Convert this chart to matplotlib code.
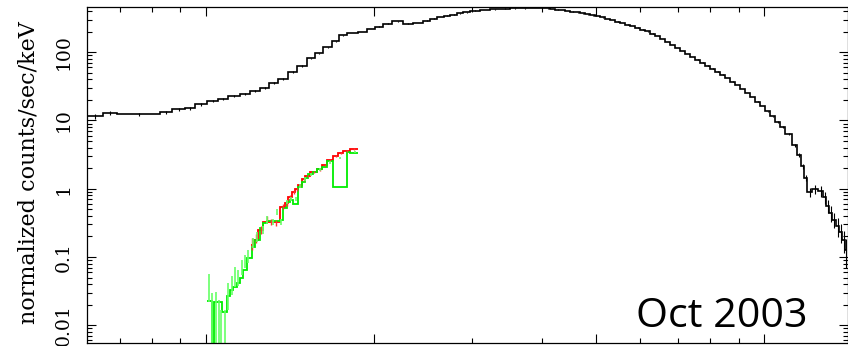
import numpy as np
import matplotlib
matplotlib.use("Agg")
import matplotlib.pyplot as plt
from matplotlib.ticker import FixedLocator, NullFormatter

# broad-band spectrum (black): bin edges in keV, normalized counts/sec/keV
black_edges = [0.612, 0.654, 0.693, 0.827, 0.869, 0.917, 0.956, 1.004, 1.051, 1.095,
               1.151, 1.199, 1.250, 1.297, 1.346, 1.403, 1.456, 1.517, 1.568, 1.621,
               1.682, 1.731, 1.789, 1.872, 1.943, 2.009, 2.076, 2.154, 2.254, 2.349,
               2.448, 2.520, 2.594, 2.670, 2.737, 2.817, 2.888, 2.972, 3.098, 3.228,
               3.364, 3.506, 3.653, 3.807, 4.050, 4.135, 4.221, 4.308, 4.398, 4.490,
               4.584, 4.679, 4.777, 4.876, 4.978, 5.082, 5.188, 5.296, 5.406, 5.519,
               5.634, 5.751, 5.871, 5.993, 6.118, 6.245, 6.376, 6.508, 6.645, 6.783,
               6.924, 7.068, 7.216, 7.366, 7.520, 7.676, 7.837, 8.000, 8.167, 8.337,
               8.511, 8.688, 8.869, 9.054, 9.243, 9.435, 9.632, 9.832, 10.037, 10.246,
               10.460, 10.678, 10.900, 11.22, 11.45, 11.65, 11.79, 11.94, 12.19, 12.49,
               12.75, 12.91, 13.07, 13.23, 13.45, 13.62, 13.79, 13.96, 14.08]
black_counts = [11.6, 12.8, 12.4, 13.3, 14.7, 15.2, 17.4, 19.2, 20.5, 22.7,
                24.3, 26.9, 29.8, 35.2, 40.3, 51.0, 62.5, 81.8, 96.8, 118.6,
                145.1, 177.7, 190.1, 196.6, 217.6, 236.6, 261.9, 284.9, 263.6, 269.0,
                291.7, 309.9, 329.3, 342.8, 354.6, 370.5, 385.8, 405.8, 416.9, 426.9,
                434.2, 438.0, 441.6, 444.6, 438.5, 429.8, 422.6, 414.2, 404.5, 395.0,
                383.3, 371.8, 360.7, 348.8, 337.3, 323.9, 308.9, 294.7, 280.2, 266.4,
                253.2, 240.7, 228.8, 215.3, 202.0, 186.9, 171.8, 155.3, 140.3, 126.8,
                114.6, 103.6, 93.6, 85.2, 77.8, 70.3, 63.6, 57.4, 51.9, 46.9,
                41.7, 37.1, 32.9, 29.0, 25.3, 22.0, 18.9, 16.2, 13.7, 11.6,
                9.62, 7.99, 6.31, 4.36, 3.11, 2.15, 1.43, 0.893, 0.988, 0.924,
                0.755, 0.557, 0.440, 0.350, 0.284, 0.232, 0.177, 0.126]
black_frac_err = [0.08, 0.06, 0.05, 0.05, 0.05, 0.05, 0.05, 0.04, 0.04, 0.04,
                  0.04, 0.04, 0.03, 0.03, 0.03, 0.03, 0.03, 0.02, 0.02, 0.02,
                  0.02, 0.02, 0.01, 0.01, 0.01, 0.01, 0.01, 0.01, 0.01, 0.01,
                  0.01, 0.01, 0.01, 0.01, 0.01, 0.01, 0.01, 0.01, 0.01, 0.01,
                  0.01, 0.01, 0.01, 0.01, 0.01, 0.01, 0.01, 0.01, 0.01, 0.01,
                  0.01, 0.01, 0.01, 0.01, 0.01, 0.01, 0.01, 0.01, 0.01, 0.01,
                  0.01, 0.01, 0.01, 0.01, 0.01, 0.01, 0.01, 0.01, 0.01, 0.01,
                  0.01, 0.01, 0.01, 0.01, 0.01, 0.01, 0.01, 0.01, 0.01, 0.01,
                  0.01, 0.01, 0.01, 0.01, 0.01, 0.01, 0.01, 0.01, 0.02, 0.02,
                  0.03, 0.03, 0.04, 0.05, 0.06, 0.08, 0.10, 0.15, 0.15, 0.18,
                  0.20, 0.22, 0.25, 0.25, 0.30, 0.30, 0.35, 0.45]

# soft instrument, red
red_edges = [1.204, 1.219, 1.239, 1.265, 1.357, 1.386, 1.403, 1.426, 1.444, 1.462,
             1.486, 1.504, 1.536, 1.581, 1.614, 1.648, 1.689, 1.724, 1.760, 1.812, 1.873]
red_counts = [0.150, 0.177, 0.248, 0.328, 0.544, 0.610, 0.762, 0.902, 0.978, 1.131,
              1.370, 1.531, 1.771, 1.920, 2.220, 2.628, 3.006, 3.36, 3.594, 3.806]
red_pts_e = [1.211, 1.229, 1.252, 1.285, 1.310, 1.335, 1.371, 1.394, 1.414, 1.435,
             1.453, 1.474, 1.495, 1.520, 1.558, 1.597, 1.631, 1.668, 1.706, 1.742,
             1.786, 1.842]
red_pts_y = [0.16, 0.19, 0.25, 0.36, 0.33, 0.32, 0.55, 0.61, 0.76, 0.90,
             0.98, 1.13, 1.37, 1.53, 1.77, 1.92, 2.22, 2.63, 3.0, 3.36,
             3.59, 3.80]
red_pts_frac = [0.2, 0.15, 0.12, 0.1, 0.1, 0.1, 0.08, 0.07, 0.06, 0.06,
                0.05, 0.05, 0.05, 0.04, 0.04, 0.04, 0.04, 0.03, 0.03, 0.03,
                0.03, 0.03]

# soft instrument, green
green_edges = [1.004, 1.025, 1.034, 1.068, 1.090, 1.104, 1.118, 1.137, 1.151, 1.165,
               1.184, 1.209, 1.224, 1.250, 1.265, 1.286, 1.357, 1.374, 1.397, 1.414,
               1.432, 1.462, 1.486, 1.504, 1.523, 1.555, 1.581, 1.614, 1.648, 1.689,
               1.789, 1.812, 1.873]
green_counts = [0.0228, 0.003, 0.0219, 0.0158, 0.0270, 0.0327, 0.0366, 0.0415, 0.0496, 0.0643,
                0.0964, 0.141, 0.177, 0.262, 0.310, 0.339, 0.347, 0.515, 0.643, 0.681,
                0.595, 1.066, 1.262, 1.415, 1.620, 1.768, 1.917, 2.092, 2.562, 1.066,
                3.47, 3.36]
green_pts_e = [1.012, 1.024, 1.041, 1.055, 1.064, 1.082, 1.096, 1.115, 1.127, 1.143,
               1.159, 1.175, 1.191, 1.213, 1.233, 1.264, 1.285, 1.320, 1.342, 1.363,
               1.395, 1.420, 1.450, 1.474, 1.504, 1.542, 1.601, 1.668, 1.738, 1.849]
green_pts_y = [0.0402, 0.0119, 0.0225, 0.0156, 0.0088, 0.0104, 0.0268, 0.0388, 0.0509, 0.0492,
               0.0713, 0.0844, 0.100, 0.160, 0.196, 0.248, 0.348, 0.325, 0.455, 0.325,
               0.638, 0.705, 0.72, 1.09, 1.384, 1.639, 1.94, 2.456, 2.81, 3.44]
green_pts_lo = [0.0220, 0.001, 0.001, 0.001, 0.001, 0.001, 0.0167, 0.0277, 0.0363, 0.0376,
                0.0544, 0.0689, 0.0815, 0.135, 0.165, 0.217, 0.303, 0.29, 0.41, 0.29,
                0.59, 0.66, 0.67, 1.02, 1.30, 1.55, 1.84, 2.34, 2.69, 3.30]
green_pts_hi = [0.0560, 0.0297, 0.0307, 0.0234, 0.0167, 0.0167, 0.0415, 0.0526, 0.0713, 0.0640,
                0.0902, 0.107, 0.1265, 0.190, 0.233, 0.285, 0.398, 0.36, 0.50, 0.36,
                0.69, 0.75, 0.77, 1.16, 1.47, 1.73, 2.04, 2.57, 2.93, 3.58]

y_ticks = [0.01, 0.1, 1, 10, 100]
y_ticklabels = ["0.01", "0.1", "1", "10", "100"]
x_major = [1, 2, 5, 10]
x_minor = [0.7, 0.8, 0.9, 3, 4, 6, 7, 8, 9]


def centers(edges):
    e = np.asarray(edges)
    return np.sqrt(e[:-1] * e[1:])


fig = plt.figure(figsize=(8.48, 3.46), dpi=100)
ax = fig.add_axes([87 / 848, 3 / 346, 760.5 / 848, 336 / 346])
ax.set_xscale("log")
ax.set_yscale("log")
ax.set_xlim(0.612, 14.1)
ax.set_ylim(0.0055, 460)

# red
ax.stairs(red_counts, red_edges, baseline=None, color="#ff0000", lw=1.3)
ry = np.asarray(red_pts_y)
ax.errorbar(red_pts_e, ry, yerr=ry * np.asarray(red_pts_frac), fmt="none",
            ecolor="#ff3030", elinewidth=1.0)

# green
gy = np.asarray(green_pts_y)
ax.errorbar(green_pts_e, gy, yerr=[gy - np.asarray(green_pts_lo), np.asarray(green_pts_hi) - gy],
            fmt="none", ecolor="#66ff66", elinewidth=1.2)
ax.stairs(green_counts, green_edges, baseline=None, color="#00ee00", lw=1.3)

# black
bc = np.asarray(black_counts)
ax.stairs(black_counts, black_edges, baseline=None, color="black", lw=1.2)
ax.errorbar(centers(black_edges), bc, yerr=bc * np.asarray(black_frac_err), fmt="none",
            ecolor="black", elinewidth=0.8)

ax.xaxis.set_major_locator(FixedLocator(x_major))
ax.xaxis.set_minor_locator(FixedLocator(x_minor))
ax.xaxis.set_major_formatter(NullFormatter())
ax.xaxis.set_minor_formatter(NullFormatter())
ax.set_yticks(y_ticks)
ax.set_yticklabels(y_ticklabels)
ax.yaxis.set_minor_formatter(NullFormatter())

ax.tick_params(which="both", direction="in", top=True, right=True, width=0.8, color="black")
ax.tick_params(which="major", length=6.5)
ax.tick_params(which="minor", length=3.5)
ax.tick_params(axis="y", which="major", pad=10, labelsize=13.5)
for lab in ax.get_yticklabels():
    lab.set_rotation(90)
    lab.set_verticalalignment("center")
    lab.set_fontfamily("DejaVu Serif")

for sp in ax.spines.values():
    sp.set_linewidth(0.9)

fig.text(28.5 / 848, 1 - 172.5 / 346, "normalized counts/sec/keV", rotation=90,
         ha="center", va="center", fontsize=16, family="DejaVu Serif")
fig.text(636 / 848, 1 - 327 / 346, "Oct 2003", ha="left", va="baseline",
         fontsize=29.7, family="Open Sans")

fig.savefig("out.png", dpi=100)
